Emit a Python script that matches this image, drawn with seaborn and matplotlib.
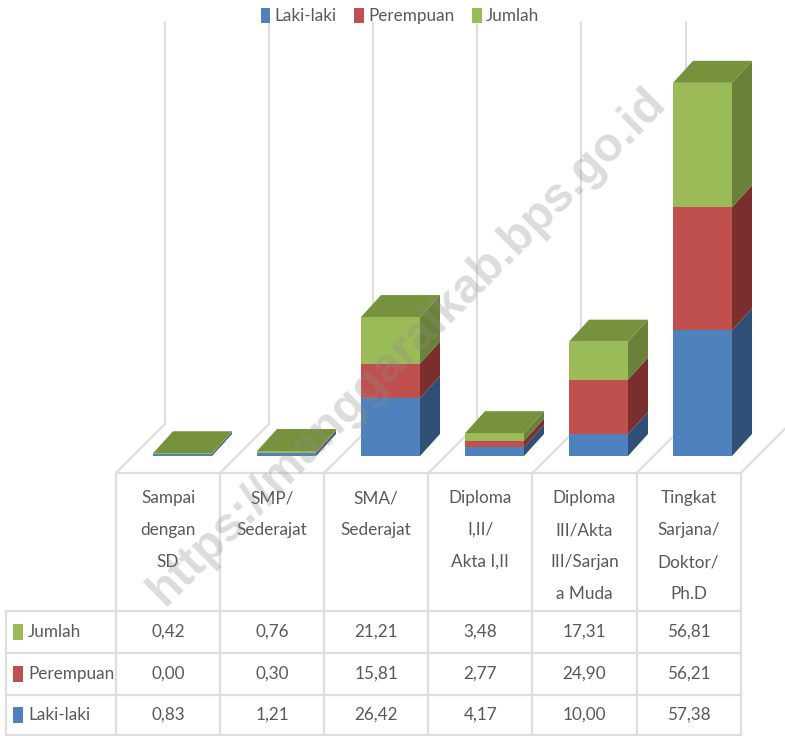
import numpy as np
import pandas as pd
import matplotlib
matplotlib.use("Agg")
import matplotlib.pyplot as plt
from matplotlib.patches import Polygon
import seaborn as sns

kategori = ["Sampai\ndengan\nSD", "SMP/\nSederajat", "SMA/\nSederajat", "Diploma\nI,II/\nAkta I,II",
            "Diploma\nIII/Akta\nIII/Sarjan\na Muda", "Tingkat\nSarjana/\nDoktor/\nPh.D"]
laki = [0.83, 1.21, 26.42, 4.17, 10.00, 57.38]
perempuan = [0.00, 0.30, 15.81, 2.77, 24.90, 56.21]
jumlah = [0.42, 0.76, 21.21, 3.48, 17.31, 56.81]

warna = {"Laki-laki": "#4F81BD", "Perempuan": "#C0504D", "Jumlah": "#9BBB59"}
warna_sisi = {"Laki-laki": "#2F4F77", "Perempuan": "#7A2F2D", "Jumlah": "#6A8139"}
warna_atas = "#76923C"
abu = "#DEDEDE"
teks = "#595959"
FS = 12.3

sns.set_theme(style="white")
plt.rcParams["font.family"] = ["Lato", "DejaVu Sans"]

df = pd.DataFrame({"kategori": kategori, "Laki-laki": laki, "Perempuan": perempuan, "Jumlah": jumlah})

fig = plt.figure(figsize=(7.85, 7.36), dpi=100)

# sumbu latar dalam piksel: lantai, garis kisi, tabel
bg = fig.add_axes([0, 0, 1, 1], zorder=0)
bg.set_xlim(0, 785)
bg.set_ylim(736, 0)
bg.axis("off")

kolom = [116 + 104.1 * i for i in range(7)]
for x in kolom:
    bg.plot([x, x + 49], [473, 424], color=abu, lw=1.6)
    bg.plot([x, x], [473, 736], color=abu, lw=1.6)
    if x + 49 < 785:
        bg.plot([x + 49, x + 49], [424, 22], color=abu, lw=1.6)
bg.plot([116, kolom[-1]], [473, 473], color=abu, lw=1.6)
bg.plot([6, 6], [611, 736], color=abu, lw=1.6)
baris_y = [611, 653, 695, 735]
for y in baris_y:
    bg.plot([6, kolom[-1]], [y, y], color=abu, lw=1.6)

for i, nama in enumerate(kategori):
    tengah = (kolom[i] + kolom[i + 1]) / 2
    for j, bagian in enumerate(nama.split("\n")):
        bg.text(tengah, 498 + j * 32, bagian, ha="center", va="center", fontsize=FS, color=teks)

for k, seri in enumerate(["Jumlah", "Perempuan", "Laki-laki"]):
    tengah_y = (baris_y[k] + baris_y[k + 1]) / 2
    bg.add_patch(plt.Rectangle((13, tengah_y - 8), 10, 16, color=warna[seri], lw=0))
    bg.text(28, tengah_y, seri, ha="left", va="center", fontsize=FS, color=teks)
    for i, v in enumerate(df[seri]):
        bg.text((kolom[i] + kolom[i + 1]) / 2, tengah_y, f"{v:.2f}".replace(".", ","),
                ha="center", va="center", fontsize=FS, color=teks)

# sumbu batang: x kategori, y nilai
ax = fig.add_axes([0, 0, 1, 1], zorder=1)
ax.patch.set_alpha(0)
PX_X = 104.0
PX_Y = 2.19
LEBAR = 59 / PX_X
DX = 20 / PX_X
DY = 22 / PX_Y

dasar = np.zeros(len(df))
for seri in ["Laki-laki", "Perempuan", "Jumlah"]:
    sebelum = len(ax.patches)
    sns.barplot(data=df, x="kategori", y=seri, color=warna[seri], saturation=1, width=LEBAR,
                bottom=dasar, linewidth=0, label=seri, ax=ax, errorbar=None, zorder=3)
    for bar in ax.patches[sebelum:]:
        x1 = bar.get_x() + bar.get_width()
        y0, y1 = bar.get_y(), bar.get_y() + bar.get_height()
        ax.add_patch(Polygon([(x1, y0), (x1 + DX, y0 + DY), (x1 + DX, y1 + DY), (x1, y1)],
                             facecolor=warna_sisi[seri], lw=0, zorder=2))
    dasar = dasar + df[seri].to_numpy()

for bar, puncak in zip(ax.patches, dasar):
    x0 = bar.get_x()
    x1 = x0 + LEBAR
    ax.add_patch(Polygon([(x0, puncak), (x1, puncak), (x1 + DX, puncak + DY), (x0 + DX, puncak + DY)],
                         facecolor=warna_atas, lw=0, zorder=2))

ax.set_xlim(-182.5 / PX_X, (785 - 182.5) / PX_X)
ax.set_ylim(-(736 - 456) / PX_Y, 456 / PX_Y)
ax.axis("off")

handles, labels = ax.get_legend_handles_labels()
ax.legend(handles, labels, ncol=3, loc="center", bbox_to_anchor=(400 / 785, 1 - 16 / 736), frameon=False,
          fontsize=FS, labelcolor=teks, handlelength=0.55, handleheight=0.95, handletextpad=0.25,
          columnspacing=1.05, borderpad=0, borderaxespad=0)

# tanda air
fig.text(407 / 785, 1 - 347 / 736, "https://manggaraikab.bps.go.id", rotation=45, ha="center", va="center",
         fontsize=34.5, fontweight="bold", family=["Liberation Sans", "DejaVu Sans"], color="#8C8C8C", alpha=0.3)

fig.savefig("out.png", dpi=100)
